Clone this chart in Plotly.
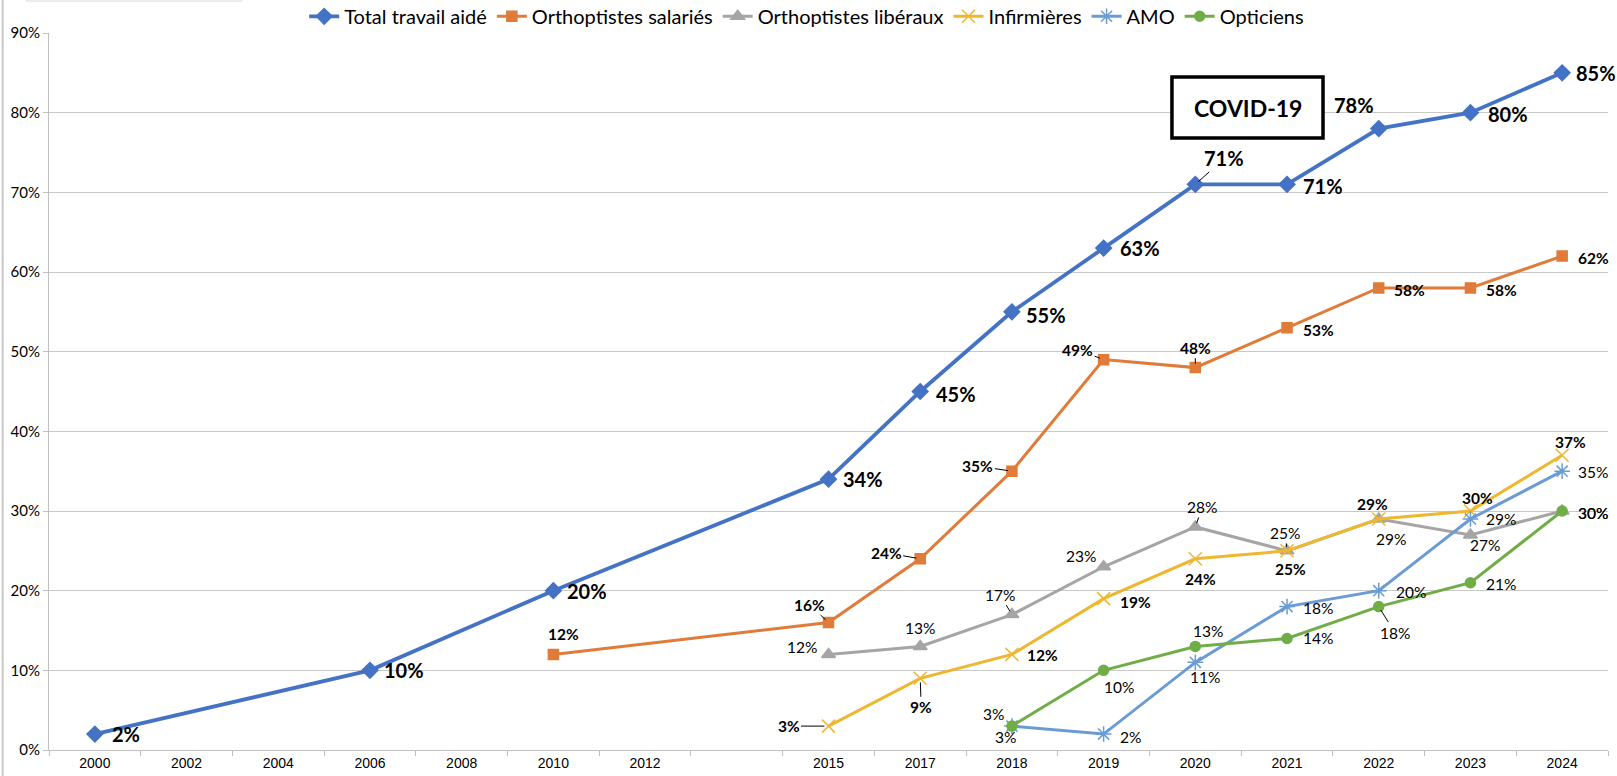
import plotly.graph_objects as go

# ---------------- data ----------------
categories = ["2000", "2002", "2004", "2006", "2008", "2010", "2012", " ",
              "2015", "2017", "2018", "2019", "2020", "2021", "2022", "2023", "2024"]

total_years = ["2000", "2006", "2010", "2015", "2017", "2018", "2019", "2020", "2021", "2022", "2023", "2024"]
total_vals = [2, 10, 20, 34, 45, 55, 63, 71, 71, 78, 80, 85]

sal_years = ["2010", "2015", "2017", "2018", "2019", "2020", "2021", "2022", "2023", "2024"]
sal_vals = [12, 16, 24, 35, 49, 48, 53, 58, 58, 62]

lib_years = ["2015", "2017", "2018", "2019", "2020", "2021", "2022", "2023", "2024"]
lib_vals = [12, 13, 17, 23, 28, 25, 29, 27, 30]

inf_years = ["2015", "2017", "2018", "2019", "2020", "2021", "2022", "2023", "2024"]
inf_vals = [3, 9, 12, 19, 24, 25, 29, 30, 37]

amo_years = ["2018", "2019", "2020", "2021", "2022", "2023", "2024"]
amo_vals = [3, 2, 11, 18, 20, 29, 35]

opt_years = ["2018", "2019", "2020", "2021", "2022", "2023", "2024"]
opt_vals = [3, 10, 13, 14, 18, 21, 30]

series_names = ["Total travail aidé", "Orthoptistes salariés", "Orthoptistes libéraux",
                "Infirmières", "AMO", "Opticiens"]

# ---------------- styles ----------------
LABEL_FONT = "Lato, Open Sans, Liberation Sans, sans-serif"
styles = [
    dict(color="#4472C4", symbol="diamond", size=12, width=3.8, fsize=20, bold=True),
    dict(color="#E07B39", symbol="square", size=10, width=3, fsize=15.5, bold=True),
    dict(color="#A5A5A5", symbol="triangle-up", size=12, width=3, fsize=15.5, bold=False),
    dict(color="#EDB730", symbol="x-thin", size=13, width=3, fsize=15.5, bold=True),
    dict(color="#6A9BD4", symbol="asterisk", size=13, width=3, fsize=15.5, bold=False),
    dict(color="#70AD47", symbol="circle", size=10, width=3, fsize=15.5, bold=False),
]

# label offsets (dx right, dy down, in px; third item = leader line)
offsets = [
    {"2000": (31, 0, 0), "2006": (34, 0, 0), "2010": (34, 0, 0), "2015": (34, 0, 0),
     "2017": (36, 2, 0), "2018": (34, 3, 0), "2019": (36, 0, 0), "2020": (29, -26, 1),
     "2021": (36, 2, 0), "2022": (-25, -24, 0), "2023": (38, 1, 0), "2024": (34, 0, 0)},
    {"2010": (10, -20, 0), "2015": (-19, -18, 1), "2017": (-34, -6, 1), "2018": (-34, -5, 1),
     "2019": (-26, -10, 1), "2020": (0, -20, 1), "2021": (31, 2, 0), "2022": (31, 2, 0),
     "2023": (31, 2, 0), "2024": (31, 2, 0)},
    {"2015": (-27, -7, 0), "2017": (0, -18, 0), "2018": (-12, -20, 1), "2019": (-23, -11, 0),
     "2020": (7, -20, 1), "2021": (-2, -18, 1), "2022": (12, 20, 0), "2023": (15, 10, 0),
     "2024": (31, 2, 0)},
    {"2015": (-40, 0, 1), "2017": (1, 29, 1), "2018": (31, 1, 0), "2019": (32, 3, 0),
     "2020": (5, 20, 0), "2021": (3, 18, 0), "2022": (-6, -15, 0), "2023": (7, -13, 0),
     "2024": (8, -13, 0)},
    {"2018": (-6, 11, 0), "2019": (27, 3, 0), "2020": (10, 15, 0), "2021": (31, 1, 0),
     "2022": (32, 1, 0), "2023": (31, 0, 0), "2024": (31, 1, 0)},
    {"2018": (-18, -12, 0), "2019": (15, 17, 0), "2020": (13, -15, 0), "2021": (31, 0, 0),
     "2022": (16, 26, 1), "2023": (31, 1, 0), "2024": (31, 2, 0)},
]

all_series = [(total_years, total_vals), (sal_years, sal_vals), (lib_years, lib_vals),
              (inf_years, inf_vals), (amo_years, amo_vals), (opt_years, opt_vals)]

fig = go.Figure()
annotations = []
for name, (yrs, vals), st, offs in zip(series_names, all_series, styles, offsets):
    yv = [v / 100 for v in vals]
    marker = dict(symbol=st["symbol"], size=st["size"], color=st["color"],
                  line=dict(color=st["color"], width=1.5))
    fig.add_trace(go.Scatter(x=yrs, y=yv, name=name, mode="lines+markers",
                             line=dict(color=st["color"], width=st["width"]),
                             marker=marker, cliponaxis=False))
    for yr, v in zip(yrs, vals):
        dx, dy, leader = offs[yr]
        xi = categories.index(yr)
        txt = f"{v}%"
        if st["bold"]:
            txt = f"<b>{txt}</b>"
        font = dict(family=LABEL_FONT, size=st["fsize"], color="black")
        if leader:
            annotations.append(dict(x=xi, y=v / 100, xref="x", yref="y", text=txt,
                                    showarrow=True, arrowhead=0, arrowwidth=1,
                                    arrowcolor="black", ax=dx, ay=dy, standoff=4,
                                    xanchor="center", yanchor="middle", font=font))
        else:
            annotations.append(dict(x=xi, y=v / 100, xref="x", yref="y", text=txt,
                                    showarrow=False, xshift=dx, yshift=-dy,
                                    xanchor="center", yanchor="middle", font=font))

# COVID-19 box text
annotations.append(dict(x=0.7688, y=0.896, xref="paper", yref="paper",
                        xanchor="center", yanchor="middle",
                        text="<b>COVID-19</b>", showarrow=False,
                        font=dict(family=LABEL_FONT, size=23, color="black")))

shapes = [
    dict(type="rect", xref="paper", yref="paper", x0=0.7203, x1=0.8172, y0=0.8536, y1=0.9386,
         line=dict(color="black", width=3.5), fillcolor="white", layer="above"),
    dict(type="line", xref="paper", yref="paper", x0=-0.0297, x1=-0.0297, y0=-0.05, y1=1.1,
         line=dict(color="#C8C8C8", width=2)),
    dict(type="rect", xref="paper", yref="paper", x0=-0.0143, x1=0.1236, y0=1.0446, y1=1.08,
         line=dict(color="#D8D8D8", width=1), fillcolor="white"),
]

fig.update_layout(
    width=1617, height=776,
    margin=dict(l=49, r=9, t=33, b=26, autoexpand=False),
    paper_bgcolor="white", plot_bgcolor="white",
    font=dict(family=LABEL_FONT, color="black"),
    legend=dict(orientation="h", x=0.486, xanchor="center",
                yref="container", y=0.979, yanchor="middle",
                font=dict(family=LABEL_FONT, size=20, color="black"),
                itemwidth=30, bgcolor="rgba(0,0,0,0)"),
    annotations=annotations,
    shapes=shapes,
    xaxis=dict(type="category", categoryorder="array", categoryarray=categories,
               range=[-0.5, len(categories) - 0.5], showgrid=False,
               showline=True, linecolor="#BFBFBF", linewidth=1,
               ticks="outside", tickson="boundaries", ticklen=5, tickcolor="#BFBFBF",
               tickfont=dict(family="Liberation Sans Narrow, Arial Narrow, Liberation Sans",
                             size=14, color="black"),
               fixedrange=True),
    yaxis=dict(range=[0, 0.9], dtick=0.1, tickformat=".0%",
               showgrid=True, gridcolor="#C8C8C8", gridwidth=1,
               showline=True, linecolor="#BFBFBF", linewidth=1,
               ticks="outside", ticklen=5, tickcolor="#BFBFBF",
               tickfont=dict(family=LABEL_FONT, size=15, color="black"),
               zeroline=False, fixedrange=True),
)

fig.write_html("out.html")
